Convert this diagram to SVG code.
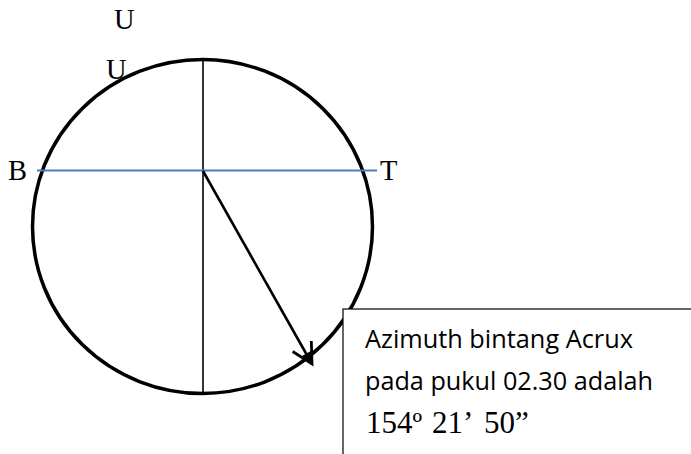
<svg xmlns="http://www.w3.org/2000/svg" width="691" height="454" viewBox="0 0 691 454">
<style>
.lbl{font-family:"Liberation Serif","Times New Roman",serif;font-size:28.5px;fill:#000}
.box{font-family:"Open Sans","Liberation Sans",Arial,sans-serif;font-size:26px;fill:#000}
.num{font-family:"Liberation Serif","Times New Roman",serif;font-size:31px;fill:#000}
</style>
<defs>
<marker id="ah" markerUnits="userSpaceOnUse" markerWidth="30" markerHeight="30" viewBox="-22 -14 26 28" refX="0" refY="0" orient="auto">
<path d="M-19,-10 L0,0 L-19,10" fill="none" stroke="#000" stroke-width="2.6"/>
<path d="M-11,-5 L1,0 L-11,5 Z" fill="#000"/>
</marker>
</defs>
<rect width="691" height="454" fill="#fff"/>
<g id="circle">
<ellipse cx="202.5" cy="226.5" rx="170" ry="167" fill="none" stroke="#000" stroke-width="3.5"/>
</g>
<g id="connectors">
<line x1="203" y1="60" x2="203" y2="393" stroke="#000" stroke-width="1.6"/>
<line x1="37" y1="170.5" x2="377" y2="170.5" stroke="#4a7cc4" stroke-width="2"/>
<line x1="203" y1="171" x2="312" y2="364" stroke="#000" stroke-width="2.6" marker-end="url(#ah)"/>
</g>
<g id="labels">
<text class="lbl" x="114" y="29">U</text>
<text class="lbl" x="106" y="78.5">U</text>
<text class="lbl" x="8" y="179.5">B</text>
<text class="lbl" x="380" y="179.5">T</text>
</g>
<g id="note">
<rect x="343" y="309" width="360" height="160" fill="#fff" stroke="#000" stroke-width="1.2"/>
<text class="box" x="365" y="347.5" textLength="268" lengthAdjust="spacingAndGlyphs">Azimuth bintang Acrux</text>
<text class="box" x="365" y="389.5" textLength="288" lengthAdjust="spacingAndGlyphs">pada pukul 02.30 adalah</text>
<text class="num" y="433"><tspan x="366">154º</tspan> <tspan x="432">21’</tspan> <tspan x="484">50”</tspan></text>
</g>
</svg>
